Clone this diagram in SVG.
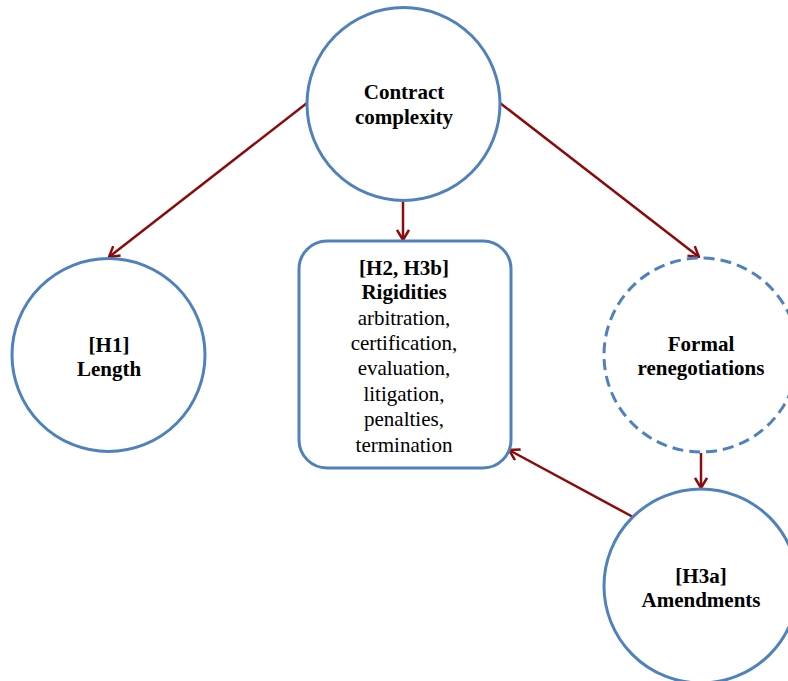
<svg xmlns="http://www.w3.org/2000/svg" width="788" height="681" viewBox="0 0 788 681">
<style>
.node{fill:#fff;stroke:#4f81bd;stroke-width:3}
.dash{stroke-dasharray:11,6}
.b{font-family:"Liberation Serif","Times New Roman",serif;font-weight:bold;font-size:21px;fill:#000;text-anchor:middle}
.r{font-family:"Liberation Serif","Times New Roman",serif;font-size:21px;fill:#000;text-anchor:middle}
.edge{stroke:#8b0a0a;stroke-width:2.5;fill:none}
</style>
<defs>
<marker id="ah" markerUnits="userSpaceOnUse" viewBox="0 0 12 14" refX="11" refY="7" markerWidth="12" markerHeight="14" orient="auto">
<path d="M1,1 L11,7 L1,13" fill="none" stroke="#8b0a0a" stroke-width="2.5"/>
</marker>
</defs>
<rect width="788" height="681" fill="#fff"/>
<g id="connectors">
<line class="edge" x1="307" y1="103" x2="109" y2="257" marker-end="url(#ah)"/>
<line class="edge" x1="403" y1="201" x2="403" y2="240" marker-end="url(#ah)"/>
<line class="edge" x1="500" y1="103" x2="699" y2="257" marker-end="url(#ah)"/>
<line class="edge" x1="701" y1="453" x2="701" y2="488" marker-end="url(#ah)"/>
<line class="edge" x1="633" y1="517" x2="509" y2="450" marker-end="url(#ah)"/>
</g>
<g id="contract">
<circle class="node" cx="403.5" cy="104" r="96.5"/>
<text class="b" x="404" y="99">Contract</text>
<text class="b" x="404" y="124">complexity</text>
</g>
<g id="length">
<circle class="node" cx="108.5" cy="355" r="96.5"/>
<text class="b" x="109" y="352">[H1]</text>
<text class="b" x="109" y="376">Length</text>
</g>
<g id="rigidities">
<rect class="node" x="299" y="241" width="212" height="227" rx="28"/>
<text class="b" x="404" y="275">[H2, H3b]</text>
<text class="b" x="404" y="299">Rigidities</text>
<text class="r" x="404" y="325">arbitration,</text>
<text class="r" x="404" y="350">certification,</text>
<text class="r" x="404" y="375">evaluation,</text>
<text class="r" x="404" y="401">litigation,</text>
<text class="r" x="404" y="426">penalties,</text>
<text class="r" x="404" y="452">termination</text>
</g>
<g id="renegotiations">
<circle class="node dash" cx="701" cy="355" r="97"/>
<text class="b" x="701" y="351">Formal</text>
<text class="b" x="701" y="375">renegotiations</text>
</g>
<g id="amendments">
<circle class="node" cx="701" cy="586" r="97"/>
<text class="b" x="701" y="583">[H3a]</text>
<text class="b" x="701" y="607">Amendments</text>
</g>
</svg>
